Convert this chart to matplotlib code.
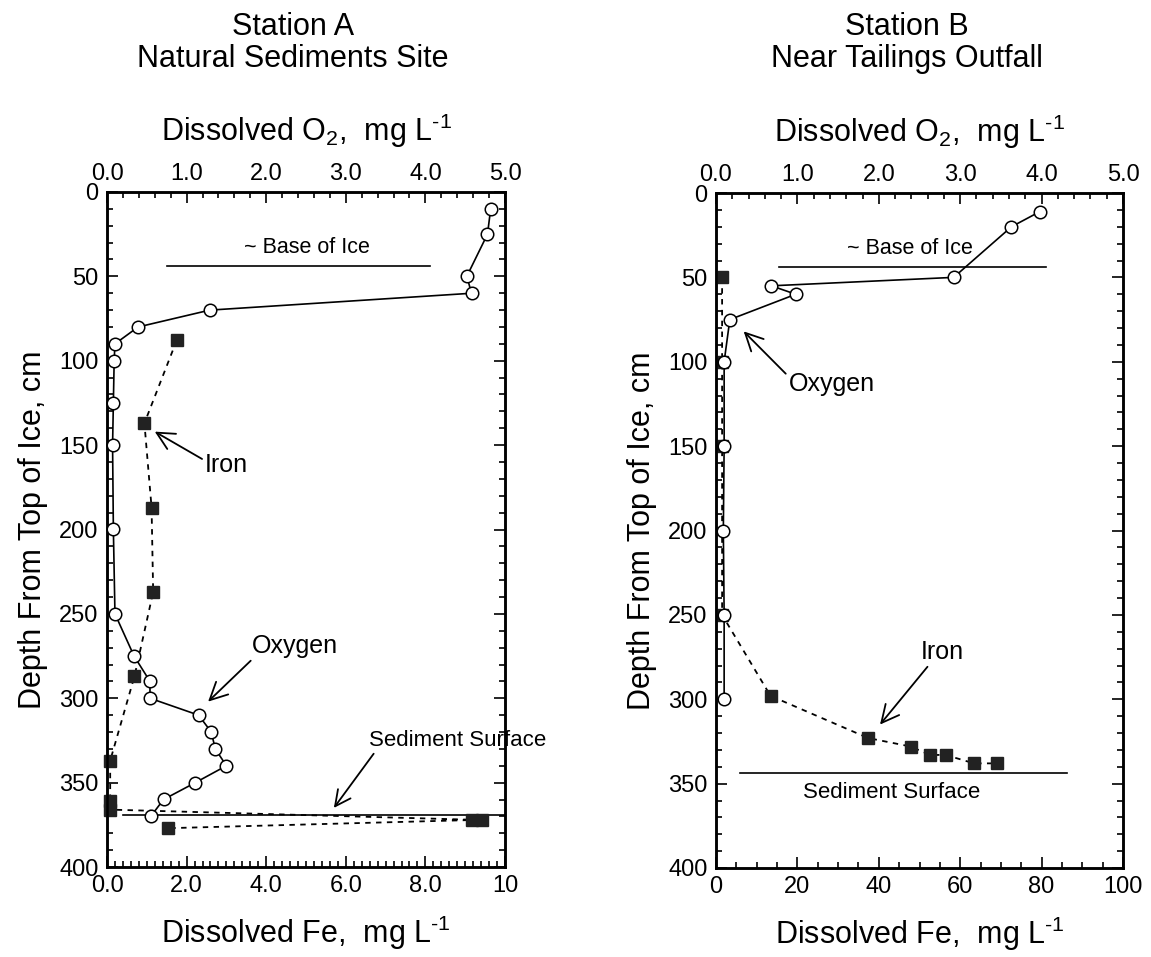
import numpy as np
import matplotlib
matplotlib.use('Agg')
import matplotlib.pyplot as plt
from matplotlib.ticker import MultipleLocator

plt.rcParams['font.family'] = ['Liberation Sans', 'DejaVu Sans']
plt.rcParams['mathtext.default'] = 'regular'

# Station A (natural sediments site)
o2_depth_a = [10, 25, 50, 60, 70, 80, 90, 100, 125, 150, 200, 250, 275, 290, 300,
              310, 320, 330, 340, 350, 360, 370]
o2_a = [4.82, 4.78, 4.52, 4.58, 1.29, 0.39, 0.10, 0.09, 0.08, 0.07, 0.08, 0.10, 0.34,
        0.54, 0.54, 1.15, 1.31, 1.36, 1.50, 1.11, 0.71, 0.55]
fe_depth_a = [88, 137, 187, 237, 287, 337, 361, 366, 372, 372, 377]
fe_a = [1.75, 0.94, 1.12, 1.16, 0.69, 0.08, 0.08, 0.08, 9.17, 9.42, 1.54]

# Station B (near tailings outfall)
o2_depth_b = [11, 20, 50, 55, 60, 75, 100, 150, 200, 250, 300]
o2_b = [3.98, 3.63, 2.92, 0.68, 0.98, 0.17, 0.10, 0.10, 0.09, 0.10, 0.10]
fe_depth_b = [50, 100, 150, 250, 298, 323, 328, 333, 333, 338, 338]
fe_b = [1.5, 1.5, 1.5, 1.5, 13.4, 37.4, 47.8, 52.6, 56.4, 63.4, 69.0]

# reference lines (depth, x-range)
ice_a = (44, 0.75, 4.06)        # O2 coords
sed_a = (369, 0.4, 10.0)        # Fe coords
ice_b = (44, 0.77, 4.06)        # O2 coords
sed_b = (343.5, 5.9, 86.2)      # Fe coords

fe_ticks_a = [0, 2, 4, 6, 8, 10]
fe_labels_a = ['0.0', '2.0', '4.0', '6.0', '8.0', '10']
fe_ticks_b = [0, 20, 40, 60, 80, 100]
fe_labels_b = ['0', '20', '40', '60', '80', '100']
o2_ticks = [0, 1, 2, 3, 4, 5]
o2_labels = ['0.0', '1.0', '2.0', '3.0', '4.0', '5.0']
depth_ticks = [0, 50, 100, 150, 200, 250, 300, 350, 400]

W, H = 1151, 957
fig = plt.figure(figsize=(W / 100, H / 100), dpi=100)

# superscript -1 with a plain hyphen, as in the original
unit = 'mg L$^{\u2010' + '1}$'


def make_panel(rect, fe_max, fe_ticks, fe_labels, fe_minor):
    """Set up one depth profile panel with Fe on the bottom and O2 on top."""
    ax = fig.add_axes(rect)
    ax2 = ax.twiny()

    ax.set_xlim(0, fe_max)
    ax.set_ylim(400, 0)
    ax2.set_xlim(0, 5)

    ax.set_xticks(fe_ticks, fe_labels)
    ax.xaxis.set_minor_locator(MultipleLocator(fe_minor))
    ax.set_yticks(depth_ticks, [str(d) for d in depth_ticks])
    ax.yaxis.set_minor_locator(MultipleLocator(10))
    ax2.set_xticks(o2_ticks, o2_labels)
    ax2.xaxis.set_minor_locator(MultipleLocator(0.2))

    ax.tick_params(which='both', direction='in', bottom=True, left=True, right=True,
                   top=False, labelsize=17, width=1.2)
    ax.tick_params(which='major', length=8, pad=6)
    ax.tick_params(which='minor', length=4)
    ax2.tick_params(which='both', direction='in', top=True, labelsize=17, width=1.2)
    ax2.tick_params(which='major', length=8, pad=5)
    ax2.tick_params(which='minor', length=4)

    for a in (ax, ax2):
        for s in a.spines.values():
            s.set_linewidth(1.8)

    ax.set_xlabel('Dissolved Fe,  ' + unit, fontsize=22, labelpad=12)
    ax.set_ylabel('Depth From Top of Ice, cm', fontsize=22, labelpad=8)
    ax2.set_xlabel('Dissolved O$_2$,  ' + unit, fontsize=22, labelpad=16)
    return ax, ax2


arrow = dict(arrowstyle='->,head_length=0.7,head_width=0.35', color='black', lw=1.3,
             shrinkA=0, shrinkB=0)

# ---- Station A ----
axA, axA2 = make_panel([107 / W, 1 - 867 / H, 398 / W, 675 / H], 10, fe_ticks_a,
                       fe_labels_a, 0.2)
axA.plot(fe_a, fe_depth_a, color='black', ls=(0, (3, 3)), lw=1.3, marker='s',
         ms=9, mfc='#222222', mec='#222222', clip_on=False, zorder=3)
axA2.plot(o2_a, o2_depth_a, color='black', lw=1.2, marker='o', ms=9, mfc='white',
          mec='black', mew=1.1, clip_on=False, zorder=4)
axA2.plot([ice_a[1], ice_a[2]], [ice_a[0]] * 2, color='black', lw=1.2)
axA2.text(2.51, 33, '~ Base of Ice', fontsize=15.5, ha='center', va='center')
axA.plot([sed_a[1], sed_a[2]], [sed_a[0]] * 2, color='black', lw=1.2)
axA.annotate('Iron', xy=(1.2, 142), xytext=(3.0, 162), fontsize=18, ha='center',
             va='center', arrowprops=dict(arrow, relpos=(0, 0.7)))
axA2.annotate('Oxygen', xy=(1.27, 302), xytext=(2.36, 269), fontsize=18, ha='center',
              va='center', arrowprops=dict(arrow, relpos=(0.05, 0.1)))
axA.annotate('Sediment Surface', xy=(5.7, 365), xytext=(8.8, 325), fontsize=16,
             ha='center', va='center', annotation_clip=False,
             arrowprops=dict(arrow, relpos=(0.04, 0.0)))

fig.text(293 / W, 1 - 27 / H, 'Station A', fontsize=22, ha='center', va='center')
fig.text(293 / W, 1 - 59 / H, 'Natural Sediments Site', fontsize=22, ha='center',
         va='center')

# ---- Station B ----
axB, axB2 = make_panel([716 / W, 1 - 868 / H, 407 / W, 675 / H], 100, fe_ticks_b,
                       fe_labels_b, 5)
axB.plot(fe_b, fe_depth_b, color='black', ls=(0, (3, 3)), lw=1.3, marker='s',
         ms=9, mfc='#222222', mec='#222222', clip_on=False, zorder=3)
axB2.plot(o2_b, o2_depth_b, color='black', lw=1.2, marker='o', ms=9, mfc='white',
          mec='black', mew=1.1, clip_on=False, zorder=4)
axB2.plot([ice_b[1], ice_b[2]], [ice_b[0]] * 2, color='black', lw=1.2)
axB2.text(2.38, 33, '~ Base of Ice', fontsize=15.5, ha='center', va='center')
axB.plot([sed_b[1], sed_b[2]], [sed_b[0]] * 2, color='black', lw=1.2)
axB.text(43.2, 355, 'Sediment Surface', fontsize=16, ha='center', va='center')
axB2.annotate('Oxygen', xy=(0.34, 82), xytext=(1.42, 113), fontsize=18, ha='center',
              va='center', arrowprops=dict(arrow, relpos=(0.0, 0.8)))
axB.annotate('Iron', xy=(40.3, 315), xytext=(55.7, 272), fontsize=18, ha='center',
             va='center', arrowprops=dict(arrow, relpos=(0.2, 0.0)))

fig.text(907 / W, 1 - 27 / H, 'Station B', fontsize=22, ha='center', va='center')
fig.text(907 / W, 1 - 59 / H, 'Near Tailings Outfall', fontsize=22, ha='center',
         va='center')

fig.savefig('out.png', dpi=100)
